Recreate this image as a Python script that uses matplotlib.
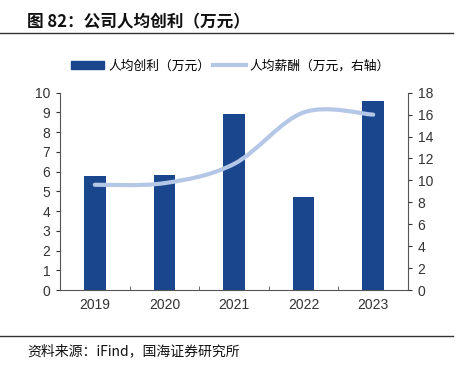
import matplotlib
matplotlib.use("Agg")
import matplotlib.pyplot as plt
import numpy as np
from matplotlib.path import Path
from matplotlib.patches import PathPatch
from matplotlib.lines import Line2D
from matplotlib.patches import Patch

plt.rcParams['font.family'] = ['Liberation Sans', 'Noto Sans CJK SC', 'DejaVu Sans']

years = ["2019", "2020", "2021", "2022", "2023"]
profit_per_head = [5.79, 5.84, 8.9, 4.71, 9.56]      # 人均创利 (万元)
salary_per_head = [9.6, 9.75, 11.5, 16.2, 16.0]      # 人均薪酬 (万元, 右轴)

bar_color = "#1a468e"
line_color = "#b4c7e7"
cjk = ['Noto Sans CJK SC', 'DejaVu Sans']


def smooth_path(xs, ys):
    # Catmull-Rom style bezier through the points, like office smoothed lines
    xs = np.asarray(xs, float)
    ys = np.asarray(ys, float)
    n = len(xs)
    verts = [(xs[0], ys[0])]
    codes = [Path.MOVETO]
    for i in range(n - 1):
        p0 = i - 1 if i > 0 else i
        p3 = i + 2 if i + 2 < n else i + 1
        c1 = (xs[i] + (xs[i + 1] - xs[p0]) / 6, ys[i] + (ys[i + 1] - ys[p0]) / 6)
        c2 = (xs[i + 1] - (xs[p3] - xs[i]) / 6, ys[i + 1] - (ys[p3] - ys[i]) / 6)
        verts += [c1, c2, (xs[i + 1], ys[i + 1])]
        codes += [Path.CURVE4] * 3
    return Path(verts, codes)


fig = plt.figure(figsize=(4.64, 3.71), dpi=100)
ax = fig.add_axes([0.1293, 0.2183, 0.7500, 0.5318])
x = np.arange(len(years))
ax.bar(x, profit_per_head, width=0.31, color=bar_color, zorder=2)
ax.set_ylim(0, 10)
ax.set_yticks(range(0, 11))
ax.set_xlim(-0.5, len(years) - 0.5)
ax.set_xticks(x)
ax.set_xticklabels(years)
ax.set_xticks(np.arange(0.5, len(years) - 1, 1), minor=True)
ax.tick_params(axis='x', which='major', length=0, pad=6, labelsize=10, colors='#333333')
ax.tick_params(axis='x', which='minor', length=3, direction='in', color='#555555')
ax.tick_params(axis='y', length=3, direction='out', labelsize=10, colors='#333333', pad=4)
for s in ['top', 'right']:
    ax.spines[s].set_visible(False)
ax.spines['left'].set_color('#555555')
ax.spines['bottom'].set_color('#555555')

ax2 = ax.twinx()
ax2.set_ylim(0, 18)
ax2.set_yticks(range(0, 19, 2))
ax2.tick_params(axis='y', length=3, direction='out', labelsize=10, colors='#333333', pad=4)
for s in ['top', 'left', 'bottom']:
    ax2.spines[s].set_visible(False)
ax2.spines['right'].set_color('#555555')
ax2.add_patch(PathPatch(smooth_path(x, salary_per_head), facecolor='none',
                        edgecolor=line_color, lw=3, capstyle='round', zorder=3))

handles = [Patch(color=bar_color), Line2D([], [], color=line_color, lw=3)]
leg = fig.legend(handles, ["人均创利（万元）", "人均薪酬（万元，右轴）"],
                 loc='center', bbox_to_anchor=(0.497, 0.822), ncol=2, frameon=False,
                 prop={'family': cjk, 'size': 9.2}, handlelength=2.6, handleheight=0.6,
                 columnspacing=0.2, handletextpad=0.3)

fig.text(0.058, 0.94, "图 82：公司人均创利（万元）", fontsize=12, fontweight='bold',
         family=cjk, va='center', color='#111111')
fig.add_artist(Line2D([0, 0.977], [0.911, 0.911], color='#333333', lw=1))
fig.add_artist(Line2D([0, 0.977], [0.094, 0.094], color='#333333', lw=1))
fig.text(0.058, 0.052, "资料来源：iFind，国海证券研究所", fontsize=10,
         family=cjk, va='center', color='#111111')

fig.savefig("out.png", dpi=100)
